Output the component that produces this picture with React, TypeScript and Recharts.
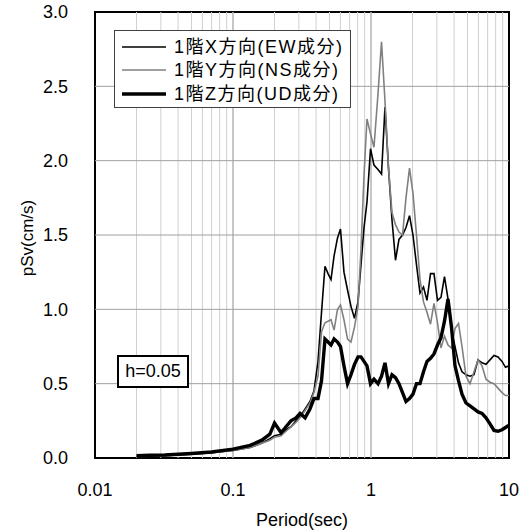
import React from 'react';
import { LineChart, Line, XAxis, YAxis, ReferenceLine, ReferenceArea, Legend } from 'recharts';

const periods = [
  0.02, 0.025, 0.032, 0.04, 0.05, 0.07, 0.1, 0.133, 0.162, 0.185,
  0.2, 0.223, 0.242, 0.263, 0.286, 0.306, 0.333, 0.361, 0.386, 0.413,
  0.438, 0.464, 0.488, 0.513, 0.54, 0.572, 0.601, 0.637, 0.676, 0.716,
  0.759, 0.805, 0.846, 0.89, 0.935, 0.992, 1.051, 1.124, 1.192, 1.263,
  1.339, 1.42, 1.505, 1.595, 1.692, 1.793, 1.901, 2.015, 2.136, 2.265,
  2.401, 2.545, 2.699, 2.86, 3.033, 3.215, 3.408, 3.614, 3.831, 4.061,
  4.306, 4.565, 4.88, 5.218, 5.578, 5.963, 6.373, 6.813, 7.283, 7.786,
  8.324, 8.898, 9.433, 10,
];

const pSvX = [
  0.01, 0.012, 0.015, 0.02, 0.025, 0.035, 0.05, 0.07, 0.1, 0.13,
  0.15, 0.16, 0.19, 0.21, 0.25, 0.28, 0.33, 0.38, 0.45, 0.65,
  0.98, 1.29, 1.24, 1.2, 1.36, 1.48, 1.54, 1.25, 1.13, 1.02,
  0.94, 1.05, 1.3, 1.55, 1.72, 2.08, 1.97, 1.94, 1.91, 2.36,
  1.95, 1.6, 1.33, 1.47, 1.5, 1.55, 1.63, 1.5, 1.3, 1.11,
  1.15, 1.06, 1.24, 1.24, 1.06, 1.08, 1.22, 1.07, 0.86, 0.75,
  0.64, 0.58, 0.56, 0.55, 0.56, 0.66, 0.64, 0.63, 0.66, 0.69,
  0.68, 0.65, 0.61, 0.62,
];

const pSvY = [
  0.01, 0.012, 0.015, 0.02, 0.025, 0.035, 0.05, 0.07, 0.1, 0.12,
  0.14, 0.15, 0.18, 0.21, 0.24, 0.27, 0.32, 0.37, 0.44, 0.55,
  0.85, 0.91, 0.92, 0.93, 0.86, 1.0, 1.03, 0.93, 0.8, 0.78,
  0.88, 1.02, 1.4, 1.9, 2.28, 2.18, 2.09, 2.45, 2.8, 2.4,
  1.95, 1.65, 1.57, 1.52, 1.5, 1.75, 1.95, 1.78, 1.5, 1.2,
  1.05, 0.98, 0.9, 1.04, 0.91, 0.74, 0.82, 0.76, 0.74, 0.87,
  0.905, 0.75, 0.55, 0.5, 0.58, 0.66, 0.62, 0.53, 0.51, 0.5,
  0.47, 0.44, 0.42, 0.42,
];

const pSvZ = [
  0.015, 0.018, 0.02, 0.025, 0.03, 0.04, 0.06, 0.085, 0.12, 0.16,
  0.235, 0.17, 0.21, 0.25, 0.27, 0.3, 0.27, 0.33, 0.4, 0.4,
  0.52, 0.8, 0.78, 0.76, 0.8, 0.78, 0.75, 0.62, 0.5, 0.56,
  0.63, 0.68, 0.68, 0.65, 0.62, 0.5, 0.53, 0.5, 0.55, 0.64,
  0.5, 0.56, 0.54, 0.5, 0.44, 0.38, 0.4, 0.43, 0.5, 0.5,
  0.58, 0.65, 0.67, 0.7, 0.76, 0.81, 0.92, 1.07, 0.88, 0.62,
  0.52, 0.43, 0.37, 0.35, 0.33, 0.31, 0.3, 0.27, 0.23, 0.185,
  0.18, 0.19, 0.205, 0.22,
];

const xTicks = [0.01, 0.1, 1, 10];
const yTicks = [0, 0.5, 1, 1.5, 2, 2.5, 3];
const minorGrid = [
  0.02, 0.03, 0.04, 0.05, 0.06, 0.07, 0.08, 0.09,
  0.2, 0.3, 0.4, 0.5, 0.6, 0.7, 0.8, 0.9,
  2, 3, 4, 5, 6, 7, 8, 9,
];
const majorGrid = [0.1, 1];
const hGrid = [0.5, 1, 1.5, 2, 2.5];

const seriesNames = ['1階X方向(EW成分)', '1階Y方向(NS成分)', '1階Z方向(UD成分)'];
const seriesKeys = ['x', 'y', 'z'];
const seriesColors = ['#000000', '#808080', '#000000'];
const seriesWidths = [1.6, 1.6, 3.4];
const dampingLabel = 'h=0.05';
const xLabel = 'Period(sec)';
const yLabel = 'pSv(cm/s)';

const data = periods.map((T, i) => ({ T, x: pSvX[i], y: pSvY[i], z: pSvZ[i] }));

const FONT = '"Liberation Sans", Arial, "Noto Sans CJK JP", sans-serif';

const LegendBox = () => (
  <div
    style={{
      width: 237,
      height: 78,
      boxSizing: 'border-box',
      border: '1.5px solid #404040',
      background: '#fff',
      paddingTop: 4,
      fontFamily: FONT,
    }}
  >
    {seriesNames.map((name, i) => (
      <div key={name} style={{ display: 'flex', alignItems: 'center', height: 23.5 }}>
        <svg width={52} height={10} style={{ marginLeft: 7 }}>
          <line x1={0} y1={5} x2={44} y2={5} stroke={seriesColors[i]} strokeWidth={seriesWidths[i]} />
        </svg>
        <span style={{ fontSize: 18, letterSpacing: 1.5, color: '#000', lineHeight: '20px', whiteSpace: 'nowrap' }}>
          {name}
        </span>
      </div>
    ))}
  </div>
);

export default function App() {
  return (
    <div style={{ position: 'absolute', left: 0, top: 0, width: 528, height: 530, background: '#fff' }}>
      <LineChart
        width={528}
        height={530}
        data={data}
        margin={{ top: 12, right: 19, bottom: 0, left: 0 }}
      >
        <XAxis
          dataKey="T"
          type="number"
          scale="log"
          domain={[0.01, 10]}
          ticks={xTicks}
          allowDataOverflow
          axisLine={false}
          tickLine={false}
          tickSize={0}
          tickMargin={25}
          height={72}
          interval={0}
          tickFormatter={(v: number) => String(v)}
          tick={{ fontSize: 18, fill: '#000', fontFamily: FONT }}
          label={{
            content: () => (
              <text x={302} y={520} textAnchor="middle" dominantBaseline="central" fontSize={18} fontFamily={FONT} fill="#000">
                {xLabel}
              </text>
            ),
          }}
        />
        <YAxis
          type="number"
          domain={[0, 3]}
          ticks={yTicks}
          allowDataOverflow
          axisLine={false}
          tickLine={false}
          tickSize={0}
          tickMargin={27}
          width={95}
          interval={0}
          tickFormatter={(v: number) => v.toFixed(1)}
          tick={{ fontSize: 18, fill: '#000', fontFamily: FONT }}
          label={{
            content: () => (
              <text
                x={27}
                y={238}
                textAnchor="middle"
                dominantBaseline="central"
                fontSize={17}
                fontFamily={FONT}
                fill="#000"
                transform="rotate(-90 27 238)"
              >
                {yLabel}
              </text>
            ),
          }}
        />
        {minorGrid.map((v) => (
          <ReferenceLine key={'m' + v} x={v} stroke="#d0d0d0" strokeWidth={1} />
        ))}
        {majorGrid.map((v) => (
          <ReferenceLine key={'M' + v} x={v} stroke="#b4b4b4" strokeWidth={1.5} />
        ))}
        {hGrid.map((v) => (
          <ReferenceLine key={'h' + v} y={v} stroke="#a0a0a0" strokeWidth={1} />
        ))}
        {seriesKeys.map((k, i) => (
          <Line
            key={k}
            type="linear"
            dataKey={k}
            name={seriesNames[i]}
            stroke={seriesColors[i]}
            strokeWidth={seriesWidths[i]}
            dot={false}
            activeDot={false}
            isAnimationActive={false}
          />
        ))}
        <ReferenceArea x1={0.01} x2={10} y1={0} y2={3} fill="none" stroke="#000" strokeWidth={2} />
        <Legend
          layout="horizontal"
          verticalAlign="middle"
          align="center"
          content={() => <LegendBox />}
          wrapperStyle={{ position: 'absolute', left: 114, top: 30, width: 237, height: 78 }}
        />
      </LineChart>
      <div
        style={{
          position: 'absolute',
          left: 117,
          top: 355,
          width: 72,
          height: 33,
          boxSizing: 'border-box',
          border: '2px solid #000',
          background: '#fff',
          display: 'flex',
          alignItems: 'center',
          justifyContent: 'center',
          fontSize: 18,
          fontFamily: FONT,
          color: '#000',
        }}
      >
        {dampingLabel}
      </div>
    </div>
  );
}
